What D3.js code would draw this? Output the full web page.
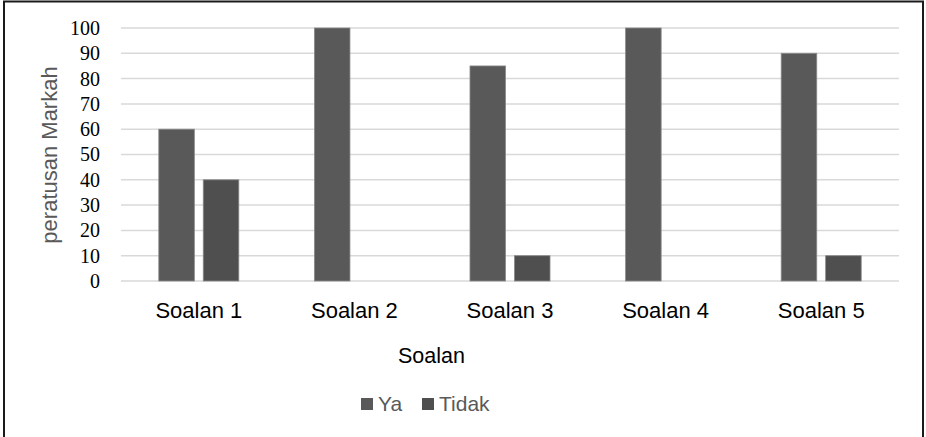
<!DOCTYPE html>
<html>
<head>
<meta charset="utf-8">
<script src="https://cdn.jsdelivr.net/npm/d3@7"></script>
<style>
  html, body { margin: 0; padding: 0; background: #fff; }
  svg { display: block; }
</style>
</head>
<body>
<div id="chart"></div>
<script>
// chart data
const categories = ['Soalan 1', 'Soalan 2', 'Soalan 3', 'Soalan 4', 'Soalan 5'];
const seriesNames = ['Ya', 'Tidak'];
const yaValues = [60, 100, 85, 100, 90];
const tidakValues = [40, 0, 10, 0, 10];
const yTicks = [0, 10, 20, 30, 40, 50, 60, 70, 80, 90, 100];

const W = 926, H = 437;
const plot = { left: 121, right: 899, top: 28, bottom: 281 };
const colors = { Ya: '#595959', Tidak: '#4f4f4f' };

const svg = d3.select('#chart').append('svg')
  .attr('width', W).attr('height', H);

// outer border
svg.append('rect')
  .attr('x', 4).attr('y', 1.5)
  .attr('width', 919).attr('height', 460)
  .attr('fill', 'none').attr('stroke', '#1a1a1a').attr('stroke-width', 2);

const x0 = d3.scaleBand().domain(categories).range([plot.left, plot.right]).padding(0);
const x1 = d3.scaleBand().domain(seriesNames).range([0, x0.bandwidth()])
  .paddingInner(0.2).paddingOuter(0.85);
const y = d3.scaleLinear().domain([0, 100]).range([plot.bottom, plot.top]);

// gridlines
svg.append('g')
  .selectAll('line')
  .data(yTicks)
  .enter().append('line')
  .attr('x1', plot.left).attr('x2', plot.right)
  .attr('y1', d => y(d)).attr('y2', d => y(d))
  .attr('stroke', '#d9d9d9').attr('stroke-width', 1.5);

// y axis labels
const yAxis = svg.append('g')
  .attr('transform', `translate(100,0)`)
  .call(d3.axisLeft(y).tickValues(yTicks).tickSize(0).tickPadding(0));
yAxis.select('.domain').remove();
yAxis.selectAll('text')
  .attr('x', 0)
  .attr('dy', '0.32em')
  .style('font-family', '"Liberation Serif", serif')
  .style('font-size', '20px')
  .attr('fill', '#000');

// bars
const rows = categories.map((c, i) => ({ cat: c, Ya: yaValues[i], Tidak: tidakValues[i] }));
const groups = svg.append('g').selectAll('g')
  .data(rows)
  .enter().append('g')
  .attr('transform', d => `translate(${x0(d.cat)},0)`);

groups.selectAll('rect')
  .data(d => seriesNames.map(s => ({ s, v: d[s] })).filter(e => e.v > 0))
  .enter().append('rect')
  .attr('x', d => x1(d.s))
  .attr('width', x1.bandwidth())
  .attr('y', d => y(d.v))
  .attr('height', d => y(0) - y(d.v))
  .attr('fill', d => colors[d.s])
  .attr('stroke', '#8a8a8a')
  .attr('stroke-width', 0.8);

// x axis labels
const xAxis = svg.append('g')
  .attr('transform', `translate(0,${plot.bottom})`)
  .call(d3.axisBottom(x0).tickSize(0).tickPadding(0));
xAxis.select('.domain').remove();
xAxis.selectAll('text')
  .attr('y', 37).attr('dy', 0)
  .style('font-family', '"Liberation Sans", Arial, sans-serif')
  .style('font-size', '22px')
  .attr('fill', '#000');

// axis titles
svg.append('text')
  .attr('transform', 'translate(56.5,155) rotate(-90)')
  .attr('text-anchor', 'middle')
  .style('font-family', '"Liberation Sans", Arial, sans-serif')
  .style('font-size', '22px')
  .attr('fill', '#595959')
  .text('peratusan Markah');

svg.append('text')
  .attr('x', 431.5).attr('y', 363)
  .attr('text-anchor', 'middle')
  .style('font-family', '"Liberation Sans", Arial, sans-serif')
  .style('font-size', '21.5px')
  .attr('fill', '#000')
  .text('Soalan');

// legend
const legendX = [361, 422];
const legend = svg.append('g').selectAll('g')
  .data(seriesNames)
  .enter().append('g')
  .attr('transform', (d, i) => `translate(${legendX[i]},398)`);
legend.append('rect')
  .attr('width', 12).attr('height', 12)
  .attr('fill', d => colors[d]);
legend.append('text')
  .attr('x', 17).attr('y', 13)
  .style('font-family', '"Liberation Sans", Arial, sans-serif')
  .style('font-size', '21px')
  .attr('fill', '#595959')
  .text(d => d);
</script>
</body>
</html>
